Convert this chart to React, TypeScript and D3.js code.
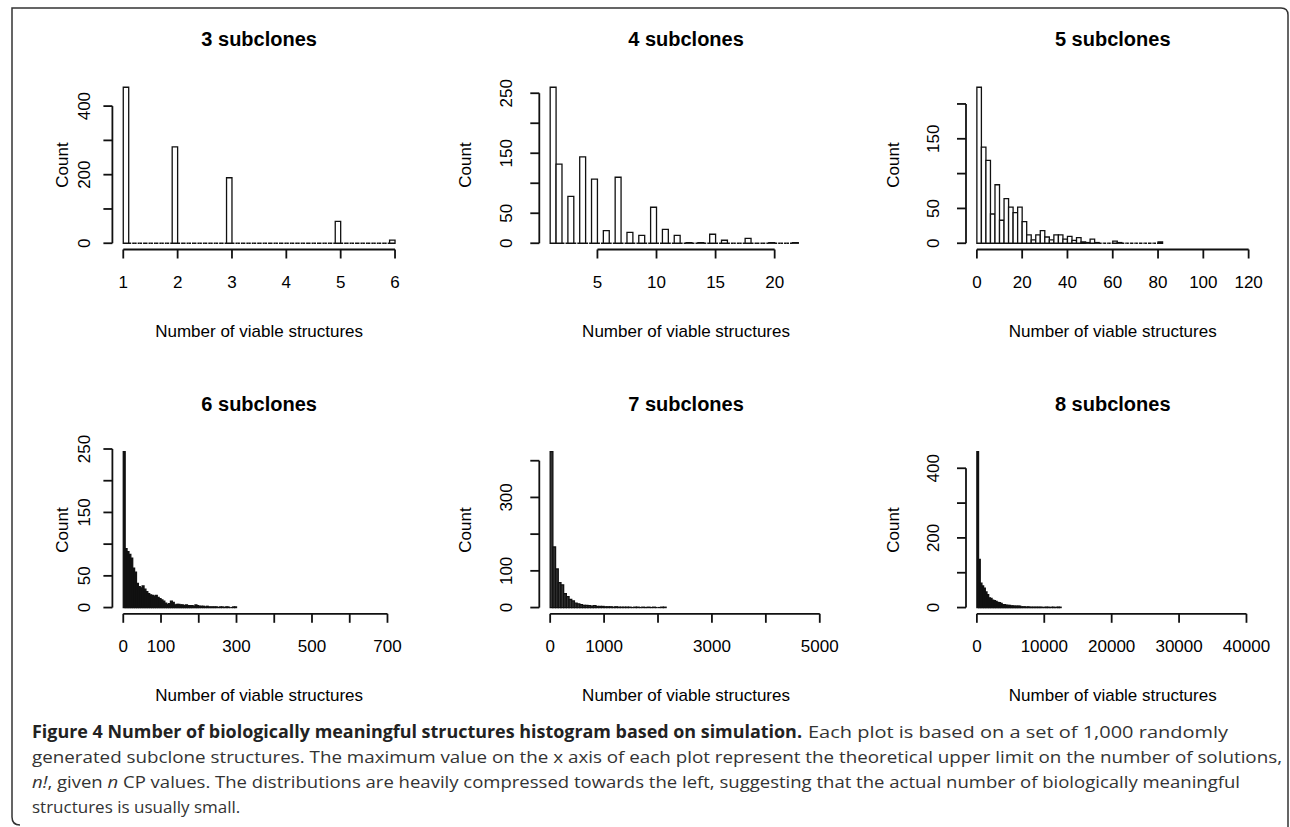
import React from "react";
import * as d3 from "d3";

// ---------- data ----------
const panelTitles = ["3 subclones", "4 subclones", "5 subclones", "6 subclones", "7 subclones", "8 subclones"];

// 3 subclones: bins of width 0.1 from 1 to 6
const counts3 = [
  455, 0, 0, 0, 0, 0, 0, 0, 0, 281,
  0, 0, 0, 0, 0, 0, 0, 0, 0, 191,
  0, 0, 0, 0, 0, 0, 0, 0, 0, 0,
  0, 0, 0, 0, 0, 0, 0, 0, 0, 64,
  0, 0, 0, 0, 0, 0, 0, 0, 0, 9,
];
// 4 subclones: bins of width 0.5 from 1 to 22
const counts4 = [
  260, 132, 0, 78, 0, 144, 0, 107, 0, 21,
  0, 110, 0, 18, 0, 13, 0, 60, 0, 23,
  0, 13, 0, 1, 0, 1, 0, 15, 0, 5,
  0, 0, 0, 8, 0, 0, 0, 1, 0, 0,
  0, 1,
];
// 5 subclones: bins of width 2 from 0 to 82
const counts5 = [
  224, 138, 119, 42, 84, 33, 64, 52, 44, 52,
  31, 12, 5, 12, 18, 9, 5, 12, 12, 6,
  10, 4, 8, 2, 1, 6, 1, 0, 0, 0,
  3, 1, 0, 0, 0, 0, 0, 0, 0, 0,
  2,
];
// 6 subclones: bins of width 5 from 0 to 300
const counts6 = [
  246, 93, 88, 84, 78, 62, 56, 38, 33, 31,
  34, 29, 25, 22, 20, 19, 18, 19, 16, 14,
  12, 10, 7, 5, 6, 10, 8, 4, 5, 5,
  4, 4, 3, 4, 3, 3, 3, 2, 4, 3,
  2, 2, 2, 1, 2, 1, 1, 1, 1, 1,
  0, 1, 1, 0, 1, 1, 0, 0, 1, 1,
];
// 7 subclones: bins of width 50 from 0 to 2150
const counts7 = [
  425, 165, 105, 68, 62, 38, 30, 22, 18, 12,
  10, 8, 6, 6, 5, 4, 5, 3, 3, 3,
  2, 2, 2, 1, 2, 1, 1, 1, 1, 1,
  0, 1, 1, 0, 1, 0, 1, 0, 1, 0,
  0, 1, 1,
];
// 8 subclones: bins of width 250 from 0 to 12500
const counts8 = [
  448, 138, 70, 62, 56, 45, 37, 28, 26, 21,
  20, 18, 15, 14, 12, 8, 8, 7, 6, 6,
  5, 5, 4, 4, 4, 4, 2, 2, 2, 1,
  2, 1, 1, 1, 1, 1, 1, 1, 1, 0,
  1, 1, 1, 0, 1, 1, 0, 1, 1, 1,
];

const binStarts = [1, 1, 0, 0, 0, 0];
const binWidths = [0.1, 0.5, 2, 5, 50, 250];
const xLimits: [number, number][] = [[1, 6], [1, 24], [0, 120], [0, 720], [0, 5040], [0, 40320]];

const xTicks3 = [1, 2, 3, 4, 5, 6];
const xTicks4 = [5, 10, 15, 20];
const xTicks5 = [0, 20, 40, 60, 80, 100, 120];
const xTicks6 = [0, 100, 200, 300, 400, 500, 600, 700];
const xTicks7 = [0, 1000, 2000, 3000, 4000, 5000];
const xTicks8 = [0, 10000, 20000, 30000, 40000];

const xLabels3 = ["1", "2", "3", "4", "5", "6"];
const xLabels4 = ["5", "10", "15", "20"];
const xLabels5 = ["0", "20", "40", "60", "80", "100", "120"];
const xLabels6 = ["0", "100", "", "300", "", "500", "", "700"];
const xLabels7 = ["0", "1000", "", "3000", "", "5000"];
const xLabels8 = ["0", "10000", "20000", "30000", "40000"];

const yTicks3 = [0, 100, 200, 300, 400];
const yTicks4 = [0, 50, 100, 150, 200, 250];
const yTicks5 = [0, 50, 100, 150, 200];
const yTicks6 = [0, 50, 100, 150, 200, 250];
const yTicks7 = [0, 100, 200, 300, 400];
const yTicks8 = [0, 100, 200, 300, 400];

const yLabels3 = ["0", "", "200", "", "400"];
const yLabels4 = ["0", "50", "", "150", "", "250"];
const yLabels5 = ["0", "50", "", "150", ""];
const yLabels6 = ["0", "50", "", "150", "", "250"];
const yLabels7 = ["0", "100", "", "300", ""];
const yLabels8 = ["0", "", "200", "", "400"];

const xAxisTitle = "Number of viable structures";
const yAxisTitle = "Count";

const captionBold = "Figure 4 Number of biologically meaningful structures histogram based on simulation.";
const captionLines = [
  "Each plot is based on a set of 1,000 randomly",
  "generated subclone structures. The maximum value on the x axis of each plot represent the theoretical upper limit on the number of solutions,",
  " CP values. The distributions are heavily compressed towards the left, suggesting that the actual number of biologically meaningful",
  "structures is usually small.",
];

// ---------- layout ----------
const W = 1290;
const H = 827;
const colLeft = [112.4, 539.3, 966];
const plotW = 293.5;
const plotH = 168.5;
const rowBottom = [249.5, 613.8];
const padX = (plotW * 0.04) / 1.08;
const padY = (plotH * 0.04) / 1.08;
const titleY = [39, 404];
const xTickLabelY = [282, 646];
const xTitleY = [331, 695];
const yTickLabelX = [84, 506, 933];
const countX = [62, 465, 893];
const countY = [165, 530];
const capX = 32;
const capY = [738, 763, 788, 813];

const FONT = "'Liberation Sans', Arial, Helvetica, sans-serif";
const CAPFONT = "'Open Sans', 'Noto Sans', sans-serif";

const panels = [
  { counts: counts3, xTicks: xTicks3, xLabels: xLabels3, yTicks: yTicks3, yLabels: yLabels3 },
  { counts: counts4, xTicks: xTicks4, xLabels: xLabels4, yTicks: yTicks4, yLabels: yLabels4 },
  { counts: counts5, xTicks: xTicks5, xLabels: xLabels5, yTicks: yTicks5, yLabels: yLabels5 },
  { counts: counts6, xTicks: xTicks6, xLabels: xLabels6, yTicks: yTicks6, yLabels: yLabels6 },
  { counts: counts7, xTicks: xTicks7, xLabels: xLabels7, yTicks: yTicks7, yLabels: yLabels7 },
  { counts: counts8, xTicks: xTicks8, xLabels: xLabels8, yTicks: yTicks8, yLabels: yLabels8 },
];

function Histogram({ idx }: { idx: number }) {
  const p = panels[idx];
  const col = idx % 3;
  const row = Math.floor(idx / 3);
  const left = colLeft[col];
  const bottom = rowBottom[row];
  const top = bottom - plotH;
  const xs = d3.scaleLinear().domain(xLimits[idx]).range([left + padX, left + plotW - padX]);
  const ys = d3.scaleLinear().domain([0, d3.max(p.counts) as number]).range([bottom - padY, top + padY]);
  const y0 = ys(0);
  const start = binStarts[idx];
  const w = binWidths[idx];
  const binPx = xs(start + w) - xs(start);
  const barFill = binPx < 2.2 ? "#111" : binPx < 3 ? "#333" : "#fff";
  const cx = left + plotW / 2;
  const yt = p.yTicks;
  const xt = p.xTicks;
  return (
    <g>
      <text x={cx} y={titleY[row]} dy="0.35em" textAnchor="middle" fontFamily={FONT} fontWeight="bold" fontSize={20}>
        {panelTitles[idx]}
      </text>
      {p.counts.map((c, i) => {
        const x0 = xs(start + i * w);
        const x1 = xs(start + (i + 1) * w);
        const y = ys(c);
        if (c > 0) {
          return (
            <path key={i} d={`M${x0},${y0}V${y}H${x1}V${y0}Z`} fill={barFill} stroke="#111" strokeWidth={1.3} />
          );
        }
        return (
          <path key={i} d={`M${x0},${y0}H${x1}`} fill="none" stroke="#111" strokeWidth={1.3} strokeDasharray="2.5,1" />
        );
      })}
      {/* y axis */}
      <line x1={left} x2={left} y1={ys(yt[0])} y2={ys(yt[yt.length - 1])} stroke="#111" strokeWidth={1.8} />
      {yt.map((t, i) => (
        <g key={i}>
          <line x1={left - 9} x2={left} y1={ys(t)} y2={ys(t)} stroke="#111" strokeWidth={1.8} />
          {p.yLabels[i] && (
            <text
              transform={`translate(${yTickLabelX[col]},${ys(t)}) rotate(-90)`}
              dy="0.35em"
              textAnchor="middle"
              fontFamily={FONT}
              fontSize={17}
            >
              {p.yLabels[i]}
            </text>
          )}
        </g>
      ))}
      {/* x axis */}
      <line x1={xs(xt[0])} x2={xs(xt[xt.length - 1])} y1={bottom} y2={bottom} stroke="#111" strokeWidth={1.8} />
      {xt.map((t, i) => (
        <g key={i}>
          <line x1={xs(t)} x2={xs(t)} y1={bottom} y2={bottom + 9} stroke="#111" strokeWidth={1.8} />
          {p.xLabels[i] && (
            <text x={xs(t)} y={xTickLabelY[row]} dy="0.35em" textAnchor="middle" fontFamily={FONT} fontSize={17}>
              {p.xLabels[i]}
            </text>
          )}
        </g>
      ))}
      <text x={cx} y={xTitleY[row]} dy="0.35em" textAnchor="middle" fontFamily={FONT} fontSize={17}>
        {xAxisTitle}
      </text>
      <text
        transform={`translate(${countX[col]},${countY[row]}) rotate(-90)`}
        dy="0.35em"
        textAnchor="middle"
        fontFamily={FONT}
        fontSize={17}
      >
        {yAxisTitle}
      </text>
    </g>
  );
}

export default function App() {
  return (
    <svg
      width={W}
      height={H}
      viewBox={`0 0 ${W} ${H}`}
      style={{ position: "absolute", left: 0, top: 0, background: "#fff" }}
    >
      <rect x={0} y={0} width={W} height={H} fill="#fff" />
      {/* frame */}
      <path d="M20,825 Q12,825 12,817 V8 H1281 Q1288,8 1288,15 V827" fill="none" stroke="#333" strokeWidth={1.5} />
      {panels.map((_, i) => (
        <Histogram key={i} idx={i} />
      ))}
      {/* caption */}
      <text x={capX} y={capY[0]} fontFamily={CAPFONT} fontWeight="bold" fontSize={17} fill="#222" textLength={770} lengthAdjust="spacingAndGlyphs">
        {captionBold}
      </text>
      <text x={capX + 776} y={capY[0]} fontFamily={CAPFONT} fontSize={17} fill="#333" textLength={420} lengthAdjust="spacingAndGlyphs">
        {captionLines[0]}
      </text>
      <text x={capX} y={capY[1]} fontFamily={CAPFONT} fontSize={17} fill="#333" textLength={1250} lengthAdjust="spacingAndGlyphs">
        {captionLines[1]}
      </text>
      <text x={capX} y={capY[2]} fontFamily={CAPFONT} fontSize={17} fill="#333" textLength={1208} lengthAdjust="spacingAndGlyphs">
        <tspan fontStyle="italic">n!</tspan>
        <tspan>, given </tspan>
        <tspan fontStyle="italic">n</tspan>
        <tspan>{captionLines[2]}</tspan>
      </text>
      <text x={capX} y={capY[3]} fontFamily={CAPFONT} fontSize={17} fill="#333">
        {captionLines[3]}
      </text>
    </svg>
  );
}
